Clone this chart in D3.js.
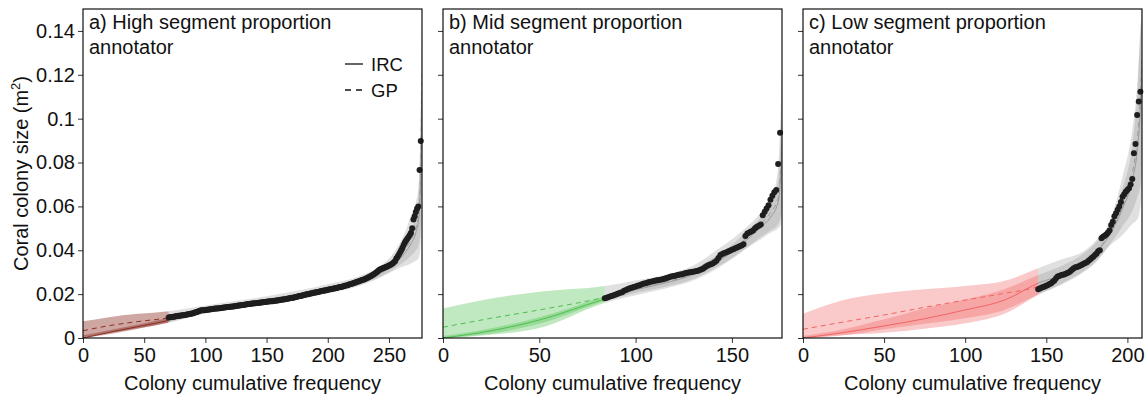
<!DOCTYPE html>
<html>
<head>
<meta charset="utf-8">
<script src="https://cdn.jsdelivr.net/npm/d3@7"></script>
<style>
  body { margin: 0; background: #fff; }
  text { font-family: "Liberation Sans", Arial, sans-serif; fill: #111; }
</style>
</head>
<body>
<div id="chart"></div>
<script>
// panel titles, axis ranges and ticks
var panelTitles = [
    ["a) High segment proportion", "annotator"],
    ["b) Mid segment proportion", "annotator"],
    ["c) Low segment proportion", "annotator"]
];
var xMax = [277, 176, 209];
var xTicks = [[0, 50, 100, 150, 200, 250], [0, 50, 100, 150], [0, 50, 100, 150, 200]];
var yTicks = [0, 0.02, 0.04, 0.06, 0.08, 0.1, 0.12, 0.14];
var yTickLabels = ["0", "0.02", "0.04", "0.06", "0.08", "0.1", "0.12", "0.14"];
var obsStart = [70, 84, 145];           // first observed colony rank
var extColors = ["#8b2e22", "#4cbf4c", "#f06464"];
var extOpacity = [0.42, 0.35, 0.35];

// observed colony sizes (sorted), rank = obsStart + index
var sizesA = [
    0.0094, 0.0095, 0.0096, 0.0096, 0.0097, 0.0098, 0.0099, 0.0100, 0.0101, 0.0102,
    0.0103, 0.0104, 0.0104, 0.0105, 0.0106, 0.0107, 0.0108, 0.0109, 0.0110, 0.0112,
    0.0113, 0.0115, 0.0117, 0.0119, 0.0121, 0.0123, 0.0125, 0.0126, 0.0127, 0.0127,
    0.0128, 0.0129, 0.0129, 0.0130, 0.0131, 0.0131, 0.0132, 0.0133, 0.0134, 0.0134,
    0.0135, 0.0136, 0.0136, 0.0137, 0.0138, 0.0139, 0.0139, 0.0140, 0.0141, 0.0141,
    0.0142, 0.0143, 0.0144, 0.0144, 0.0145, 0.0146, 0.0147, 0.0148, 0.0148, 0.0149,
    0.0150, 0.0151, 0.0152, 0.0153, 0.0154, 0.0155, 0.0155, 0.0156, 0.0157, 0.0157,
    0.0158, 0.0159, 0.0160, 0.0160, 0.0161, 0.0162, 0.0162, 0.0163, 0.0164, 0.0164,
    0.0165, 0.0166, 0.0166, 0.0167, 0.0168, 0.0168, 0.0169, 0.0170, 0.0171, 0.0171,
    0.0172, 0.0173, 0.0174, 0.0175, 0.0176, 0.0177, 0.0178, 0.0179, 0.0180, 0.0181,
    0.0182, 0.0183, 0.0184, 0.0186, 0.0187, 0.0188, 0.0190, 0.0191, 0.0192, 0.0194,
    0.0195, 0.0196, 0.0198, 0.0199, 0.0200, 0.0202, 0.0203, 0.0204, 0.0205, 0.0207,
    0.0208, 0.0209, 0.0210, 0.0211, 0.0213, 0.0214, 0.0215, 0.0216, 0.0217, 0.0219,
    0.0220, 0.0221, 0.0222, 0.0223, 0.0225, 0.0226, 0.0227, 0.0228, 0.0229, 0.0231,
    0.0232, 0.0233, 0.0235, 0.0236, 0.0238, 0.0239, 0.0241, 0.0243, 0.0245, 0.0246,
    0.0248, 0.0250, 0.0252, 0.0254, 0.0256, 0.0258, 0.0260, 0.0262, 0.0264, 0.0266,
    0.0268, 0.0270, 0.0273, 0.0276, 0.0279, 0.0282, 0.0285, 0.0288, 0.0292, 0.0296,
    0.0300, 0.0306, 0.0310, 0.0314, 0.0316, 0.0318, 0.0320, 0.0322, 0.0325, 0.0327,
    0.0330, 0.0333, 0.0336, 0.0340, 0.0345, 0.0350, 0.0362, 0.0370, 0.0380, 0.0390,
    0.0400, 0.0412, 0.0424, 0.0435, 0.0445, 0.0452, 0.0460, 0.0470, 0.0480, 0.0500,
    0.0540, 0.0555, 0.0575, 0.0590, 0.0600, 0.0766, 0.0898
];
var sizesB = [
    0.0181, 0.0184, 0.0187, 0.0190, 0.0193, 0.0196, 0.0200, 0.0203, 0.0206, 0.0209,
    0.0215, 0.0219, 0.0223, 0.0227, 0.0229, 0.0232, 0.0235, 0.0238, 0.0241, 0.0244,
    0.0247, 0.0250, 0.0252, 0.0255, 0.0257, 0.0259, 0.0261, 0.0263, 0.0264, 0.0266,
    0.0268, 0.0270, 0.0273, 0.0276, 0.0279, 0.0281, 0.0283, 0.0285, 0.0287, 0.0289,
    0.0291, 0.0293, 0.0296, 0.0298, 0.0300, 0.0301, 0.0302, 0.0304, 0.0306, 0.0309,
    0.0312, 0.0316, 0.0322, 0.0328, 0.0333, 0.0336, 0.0340, 0.0345, 0.0352, 0.0365,
    0.0378, 0.0383, 0.0387, 0.0390, 0.0394, 0.0398, 0.0402, 0.0406, 0.0410, 0.0414,
    0.0418, 0.0422, 0.0428, 0.0465, 0.0477, 0.0481, 0.0485, 0.0490, 0.0500, 0.0507,
    0.0512, 0.0518, 0.0560, 0.0576, 0.0590, 0.0605, 0.0630, 0.0648, 0.0665, 0.0675,
    0.0793, 0.0936
];
var sizesC = [
    0.0222, 0.0226, 0.0229, 0.0232, 0.0235, 0.0238, 0.0242, 0.0246, 0.0250, 0.0256,
    0.0262, 0.0272, 0.0280, 0.0283, 0.0286, 0.0288, 0.0290, 0.0293, 0.0296, 0.0300,
    0.0306, 0.0312, 0.0318, 0.0322, 0.0324, 0.0327, 0.0330, 0.0334, 0.0338, 0.0342,
    0.0345, 0.0352, 0.0358, 0.0365, 0.0371, 0.0378, 0.0385, 0.0395, 0.0400, 0.0455,
    0.0462, 0.0466, 0.0472, 0.0480, 0.0490, 0.0515, 0.0530, 0.0555, 0.0569, 0.0585,
    0.0599, 0.0620, 0.0644, 0.0655, 0.0667, 0.0675, 0.0683, 0.0700, 0.0725, 0.0842,
    0.0885, 0.1017, 0.1078, 0.1123
];

// model fits: knot ranks, then [lower, median, upper] for GP and IRC
var knotsA = [0, 20, 45, 70, 100, 150, 200, 225, 240, 250, 258, 264, 268, 272, 274, 275.5, 276.5, 277];
var gpA = [
    [0.0005, 0.0033, 0.0076], [0.0022, 0.0055, 0.0094], [0.0045, 0.0075, 0.0110], [0.0070, 0.0092, 0.0122],
    [0.0112, 0.0128, 0.0148], [0.0155, 0.0172, 0.0190], [0.0203, 0.0222, 0.0245], [0.0236, 0.0256, 0.0280],
    [0.0268, 0.0290, 0.0318], [0.0295, 0.0325, 0.0362], [0.0318, 0.0365, 0.0425], [0.0330, 0.0410, 0.0495],
    [0.0340, 0.0450, 0.0560], [0.0352, 0.0500, 0.0620], [0.0362, 0.0560, 0.0680], [0.0400, 0.0700, 0.0900],
    [0.0550, 0.1000, 0.1300], [0.0700, 0.1200, 0.1500]
];
var ircA = [
    [0.0000, 0.0000, 0.0012], [0.0016, 0.0024, 0.0034], [0.0042, 0.0052, 0.0062], [0.0072, 0.0080, 0.0092],
    [0.0115, 0.0125, 0.0136], [0.0158, 0.0168, 0.0180], [0.0208, 0.0220, 0.0233], [0.0242, 0.0254, 0.0268],
    [0.0272, 0.0287, 0.0302], [0.0300, 0.0318, 0.0338], [0.0330, 0.0355, 0.0382], [0.0355, 0.0395, 0.0435],
    [0.0375, 0.0430, 0.0490], [0.0400, 0.0480, 0.0560], [0.0420, 0.0530, 0.0640], [0.0460, 0.0650, 0.0850],
    [0.0550, 0.0900, 0.1200], [0.0650, 0.1100, 0.1500]
];
var knotsB = [0, 25, 50, 84, 100, 115, 130, 141, 150, 158, 165, 170, 174, 175.5, 176.5];
var gpB = [
    [0.0000, 0.0049, 0.0135], [0.0015, 0.0090, 0.0180], [0.0046, 0.0128, 0.0211], [0.0160, 0.0186, 0.0237],
    [0.0195, 0.0222, 0.0262], [0.0225, 0.0255, 0.0287], [0.0262, 0.0292, 0.0330], [0.0310, 0.0345, 0.0394],
    [0.0360, 0.0400, 0.0450], [0.0410, 0.0460, 0.0508], [0.0450, 0.0520, 0.0570], [0.0480, 0.0570, 0.0620],
    [0.0500, 0.0640, 0.0780], [0.0520, 0.0800, 0.1100], [0.0600, 0.1000, 0.1500]
];
var ircB = [
    [0.0000, 0.0000, 0.0010], [0.0020, 0.0033, 0.0045], [0.0065, 0.0082, 0.0095], [0.0168, 0.0178, 0.0192],
    [0.0205, 0.0220, 0.0240], [0.0232, 0.0250, 0.0272], [0.0270, 0.0290, 0.0312], [0.0318, 0.0340, 0.0370],
    [0.0365, 0.0392, 0.0425], [0.0415, 0.0450, 0.0490], [0.0460, 0.0505, 0.0550], [0.0490, 0.0550, 0.0610],
    [0.0520, 0.0620, 0.0720], [0.0560, 0.0760, 0.1000], [0.0650, 0.0950, 0.1500]
];
var knotsC = [0, 25, 50, 75, 100, 125, 145, 160, 173, 180, 189, 197, 203, 206, 208, 209];
var gpC = [
    [0.0000, 0.0040, 0.0110], [0.0014, 0.0073, 0.0173], [0.0024, 0.0105, 0.0204], [0.0042, 0.0140, 0.0222],
    [0.0067, 0.0173, 0.0237], [0.0113, 0.0205, 0.0262], [0.0196, 0.0235, 0.0318], [0.0245, 0.0290, 0.0360],
    [0.0300, 0.0350, 0.0395], [0.0340, 0.0390, 0.0440], [0.0420, 0.0475, 0.0530], [0.0470, 0.0600, 0.0736],
    [0.0520, 0.0750, 0.0950], [0.0540, 0.0900, 0.1150], [0.0600, 0.1100, 0.1400], [0.0700, 0.1300, 0.1500]
];
var ircC = [
    [0.0000, 0.0000, 0.0010], [0.0012, 0.0025, 0.0040], [0.0040, 0.0055, 0.0085], [0.0065, 0.0088, 0.0135],
    [0.0090, 0.0128, 0.0175], [0.0130, 0.0175, 0.0225], [0.0200, 0.0250, 0.0287], [0.0250, 0.0290, 0.0330],
    [0.0305, 0.0345, 0.0385], [0.0345, 0.0385, 0.0430], [0.0425, 0.0470, 0.0520], [0.0510, 0.0590, 0.0680],
    [0.0580, 0.0720, 0.0880], [0.0640, 0.0850, 0.1100], [0.0700, 0.1050, 0.1400], [0.0800, 0.1250, 0.1500]
];

var panels = [
    { sizes: sizesA, knots: knotsA, gp: gpA, irc: ircA },
    { sizes: sizesB, knots: knotsB, gp: gpB, irc: ircB },
    { sizes: sizesC, knots: knotsC, gp: gpC, irc: ircC }
];

var W = 1146, H = 397;
var top0 = 9, plotH = 329, plotW = 339;
var lefts = [83, 443, 803];

var svg = d3.select('#chart').append('svg')
    .attr('width', W)
    .attr('height', H);

var y = d3.scaleLinear().domain([0, 0.15]).range([plotH, 0]);

panels.forEach(function (p, i) {
    var x = d3.scaleLinear().domain([0, xMax[i]]).range([0, plotW]);
    var g = svg.append('g').attr('transform', 'translate(' + lefts[i] + ',' + top0 + ')');

    var xs = x(obsStart[i]);
    var defs = g.append('defs');
    defs.append('clipPath').attr('id', 'ext' + i)
        .append('rect').attr('x', 0).attr('y', 0).attr('width', xs).attr('height', plotH);
    defs.append('clipPath').attr('id', 'obs' + i)
        .append('rect').attr('x', xs).attr('y', 0).attr('width', plotW - xs).attr('height', plotH);

    var rows = function (arr) {
        return p.knots.map(function (k, j) { return { r: k, lo: arr[j][0], mid: arr[j][1], hi: arr[j][2] }; });
    };
    var area = d3.area()
        .x(function (d) { return x(d.r); })
        .y0(function (d) { return y(d.lo); })
        .y1(function (d) { return y(d.hi); })
        .curve(d3.curveMonotoneX);
    var line = d3.line()
        .x(function (d) { return x(d.r); })
        .y(function (d) { return y(d.mid); })
        .curve(d3.curveMonotoneX);

    // extrapolated part in colour, observed part in grey
    [['ext', extColors[i], extOpacity[i], extColors[i]], ['obs', '#8c8c8c', 0.27, '#9a9a9a']].forEach(function (s) {
        var sg = g.append('g').attr('clip-path', 'url(#' + s[0] + i + ')');
        sg.append('path').datum(rows(p.gp)).attr('d', area)
            .attr('fill', s[1]).attr('fill-opacity', s[2]);
        sg.append('path').datum(rows(p.irc)).attr('d', area)
            .attr('fill', s[1]).attr('fill-opacity', s[2]);
        sg.append('path').datum(rows(p.gp)).attr('d', line)
            .attr('fill', 'none').attr('stroke', s[3]).attr('stroke-width', 1)
            .attr('stroke-dasharray', '5,4');
        sg.append('path').datum(rows(p.irc)).attr('d', line)
            .attr('fill', 'none').attr('stroke', s[3]).attr('stroke-width', 1);
    });

    // observed colonies
    g.append('g').selectAll('circle')
        .data(p.sizes)
        .enter().append('circle')
        .attr('cx', function (d, j) { return x(obsStart[i] + j); })
        .attr('cy', function (d) { return y(d); })
        .attr('r', 3)
        .attr('fill', '#1e1e1e');

    // axes
    var xAxis = d3.axisBottom(x).tickValues(xTicks[i]).tickSizeInner(5).tickSizeOuter(0).tickPadding(5);
    var gx = g.append('g').attr('transform', 'translate(0,' + plotH + ')').call(xAxis);
    gx.selectAll('text').style('font-size', '20px').attr('fill', '#111');

    var yAxis = d3.axisLeft(y).tickValues(yTicks).tickSizeInner(5).tickSizeOuter(0).tickPadding(3)
        .tickFormat(function (d, j) { return i === 0 ? yTickLabels[j] : ''; });
    var gy = g.append('g').call(yAxis);
    gy.selectAll('text').style('font-size', '20px').attr('fill', '#111');
    g.selectAll('.tick line').attr('stroke', '#333');
    g.selectAll('.domain').remove();

    // frame
    g.append('rect').attr('x', 0).attr('y', 0).attr('width', plotW).attr('height', plotH)
        .attr('fill', 'none').attr('stroke', '#111').attr('stroke-width', 1.2);

    // panel title
    var t = g.append('text').attr('x', 6).attr('y', 20).style('font-size', '20px');
    t.append('tspan').attr('x', 6).attr('dy', 0).text(panelTitles[i][0]);
    t.append('tspan').attr('x', 6).attr('dy', 24.5).text(panelTitles[i][1]);

    // x axis title
    g.append('text').attr('x', plotW / 2).attr('y', plotH + 52)
        .attr('text-anchor', 'middle').style('font-size', '20px')
        .text('Colony cumulative frequency');
});

// legend (panel a)
var legend = [['IRC', null], ['GP', '6,5']];
var lg = svg.append('g').attr('transform', 'translate(345,64)');
legend.forEach(function (l, k) {
    lg.append('line').attr('x1', 0).attr('x2', 18).attr('y1', k * 26).attr('y2', k * 26)
        .attr('stroke', '#111').attr('stroke-width', 1.3)
        .attr('stroke-dasharray', l[1]);
    lg.append('text').attr('x', 26).attr('y', k * 26 + 7).style('font-size', '18.5px').text(l[0]);
});

// y axis title
var yl = svg.append('text')
    .attr('transform', 'translate(28,' + (top0 + plotH / 2) + ') rotate(-90)')
    .attr('text-anchor', 'middle').style('font-size', '20px');
yl.append('tspan').text('Coral colony size (m');
yl.append('tspan').attr('dy', -8).style('font-size', '13px').text('2');
yl.append('tspan').attr('dy', 8).text(')');
</script>
</body>
</html>
